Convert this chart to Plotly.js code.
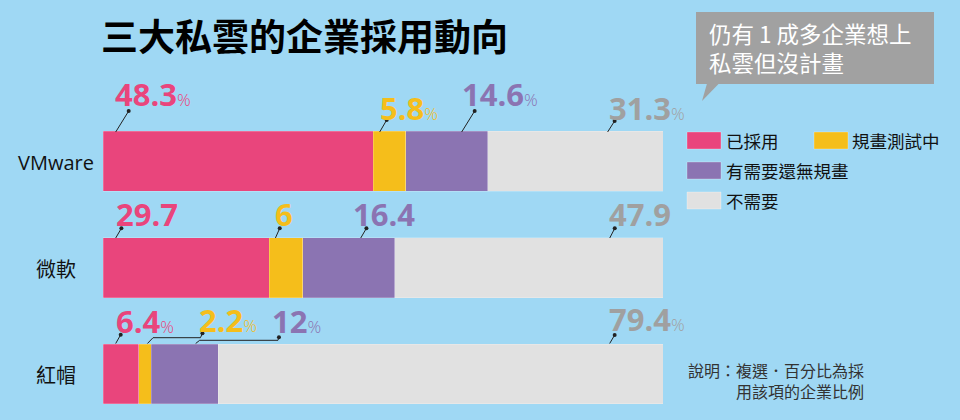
<!DOCTYPE html>
<html><head><meta charset="utf-8">
<script src="https://cdn.plot.ly/plotly-3.0.1.min.js"></script>
<style>html,body{margin:0;padding:0;background:#9FD8F4}</style>
</head><body><div id="chart" style="width:960px;height:420px"></div>
<script>
// ---- data ----
const categories = ['VMware', '微軟', '紅帽'];
const seriesNames = ['已採用', '規畫測試中', '有需要還無規畫', '不需要'];
const adopted = [48.3, 29.7, 6.4];
const testing = [5.8, 6, 2.2];
const planned = [14.6, 16.4, 12];
const notNeeded = [31.3, 47.9, 79.4];
const series = [adopted, testing, planned, notNeeded];
const showPct = [true, false, true];

// ---- style ----
const colors = ['#E9457C', '#F5BE1B', '#8B74B2', '#E1E1E1'];
const labelColors = ['#E9457C', '#F5BE1B', '#8B74B2', '#A0A0A0'];
const bg = '#9FD8F4';
const W = 960, H = 420, ML = 103, MR = 297;
const PW = W - ML - MR;
const pxPerUnit = PW / 100;
const yTopIdx = -1.512, yBotIdx = 2.432, barWidth = 0.5634;

// label placement: offsets (px) from segment start, absolute y (px)
const labelPlace = [
  [{tdx: 11.7, ty: 94, pts: [[12.7, 132], [25.7, 111]]},
   {tdx: 6.9, ty: 108, pts: [[6.2, 132], [13.2, 120]]},
   {tdx: 56.4, ty: 93.5, pts: [[55.7, 132], [68.7, 111]]},
   {tdx: 120.9, ty: 108, pts: [[119.9, 132], [126.9, 121]]}],
  [{tdx: 12.7, ty: 214.5, pts: [[12.7, 238], [18.4, 228.3]]},
   {tdx: 5.4, ty: 214.5, pts: [[6.1, 238], [10.4, 228.3]]},
   {tdx: 49.8, ty: 214.5, pts: [[57.8, 238], [63.5, 228.3]]},
   {tdx: 214, ty: 214.5, pts: [[215, 238], [220, 228.3]]}],
  [{tdx: 12.7, ty: 320.5, pts: [[12.7, 343.5], [17.7, 334.7]]},
   {tdx: 59.9, ty: 320, pts: [[8.6, 343.5], [14.2, 337.7], [61.6, 337.7], [63.6, 333.3]]},
   {tdx: 121.2, ty: 321, pts: [[44.5, 343.5], [48.5, 340.3], [126.8, 340.3], [127.8, 337.3]]},
   {tdx: 390.3, ty: 318.5, pts: [[391.3, 343.5], [396.3, 335]]}]
];

const py = p => 1 - p / H;          // paper y (plot spans full height)
const px = p => (p - ML) / PW;      // paper x (relative to plot area)

const traces = series.map((vals, s) => ({
  type: 'bar', orientation: 'h', name: seriesNames[s],
  y: categories, x: vals, width: barWidth,
  marker: {color: colors[s], line: {width: 0.6, color: 'rgba(255,255,255,0.35)'}},
  showlegend: false, hoverinfo: 'skip'
}));

const annotations = [];
const shapes = [];

categories.forEach((cat, r) => {
  let cum = 0;
  series.forEach((vals, s) => {
    const v = vals[r];
    const pl = labelPlace[r][s];
    const start = cum;
    const xs = d => start + d / pxPerUnit;
    let txt = '<b>' + String(v) + '</b>';
    if (showPct[r]) txt += '<span style="font-size:17px;font-weight:300">%</span>';
    annotations.push({
      text: txt, xref: 'x', yref: 'paper', x: xs(pl.tdx - 2), y: py(pl.ty),
      xanchor: 'left', yanchor: 'middle', showarrow: false,
      font: {family: 'Open Sans, sans-serif', size: 31, color: labelColors[s], weight: 700}
    });
    const path = pl.pts.map((p, i) => (i ? 'L' : 'M') + xs(p[0]) + ',' + py(p[1])).join(' ');
    shapes.push({type: 'path', xref: 'x', yref: 'paper', path: path,
      line: {color: '#222', width: 1}, layer: 'above'});
    const dot = pl.pts[pl.pts.length - 1];
    shapes.push({type: 'circle', xref: 'x', yref: 'paper', xsizemode: 'pixel', ysizemode: 'pixel',
      xanchor: xs(dot[0]), yanchor: py(dot[1]), x0: -2, x1: 2, y0: -2, y1: 2,
      fillcolor: '#222', line: {width: 0}, layer: 'above'});
    cum += v;
  });
  // category label
  const rowCenter = (r - yTopIdx) / (yBotIdx - yTopIdx) * H;
  annotations.push({text: cat, xref: 'paper', yref: 'paper', x: px(56), y: py(rowCenter + 1.5),
    xanchor: 'center', yanchor: 'middle', showarrow: false,
    font: {family: 'Open Sans, Noto Sans CJK TC, sans-serif', size: 20, color: '#111'}});
});

// custom legend
const legendPos = [[687, 132, 726], [814, 132, 852], [687, 162, 726], [687, 192, 726]];
seriesNames.forEach((n, s) => {
  const [x0, y0, tx] = legendPos[s];
  shapes.push({type: 'rect', xref: 'paper', yref: 'paper', x0: px(x0), x1: px(x0 + 34), y0: py(y0), y1: py(y0 + 17),
    fillcolor: colors[s], line: {width: 0.8, color: 'rgba(255,255,255,0.35)'}});
  annotations.push({text: n, xref: 'paper', yref: 'paper', x: px(tx - 2), y: py(y0 + 8.5),
    xanchor: 'left', yanchor: 'middle', showarrow: false,
    font: {family: 'Noto Sans CJK TC, sans-serif', size: 17.5, color: '#111'}});
});

// callout box
shapes.push({type: 'rect', xref: 'paper', yref: 'paper', x0: px(696), x1: px(934), y0: py(12), y1: py(84),
  fillcolor: '#A1A1A1', line: {width: 0}});
shapes.push({type: 'path', xref: 'paper', yref: 'paper',
  path: 'M' + px(707) + ',' + py(83.5) + ' L' + px(719) + ',' + py(83.5) + ' L' + px(702) + ',' + py(101) + ' Z',
  fillcolor: '#A1A1A1', line: {width: 0}});
annotations.push({text: '仍有 1 成多企業想上<br>私雲但沒計畫', xref: 'paper', yref: 'paper', x: px(707), y: py(47),
  xanchor: 'left', yanchor: 'middle', align: 'left', showarrow: false,
  font: {family: 'Noto Sans CJK TC, sans-serif', size: 22.5, color: '#FFFFFF'}});

// note
annotations.push({text: '說明：複選．百分比為採<br>用該項的企業比例', xref: 'paper', yref: 'paper', x: px(686), y: py(380),
  xanchor: 'left', yanchor: 'middle', align: 'right', showarrow: false,
  font: {family: 'Noto Sans CJK TC, sans-serif', size: 16, color: '#333'}});

const layout = {
  width: W, height: H, paper_bgcolor: bg, plot_bgcolor: bg,
  margin: {l: ML, r: MR, t: 0, b: 0, pad: 0},
  barmode: 'stack', bargap: 0,
  title: {text: '<b>三大私雲的企業採用動向</b>', x: 101 / W, xanchor: 'left', y: py(38.5), yanchor: 'middle',
    font: {family: 'Noto Sans CJK TC, sans-serif', size: 37, color: '#000'}},
  xaxis: {range: [0, 100], showgrid: false, zeroline: false, showticklabels: false, showline: false, fixedrange: true},
  yaxis: {type: 'category', range: [yBotIdx, yTopIdx], showgrid: false, zeroline: false,
    showticklabels: false, showline: false, fixedrange: true},
  annotations: annotations, shapes: shapes
};

Plotly.newPlot('chart', traces, layout, {staticPlot: true, displayModeBar: false});
</script></body></html>
